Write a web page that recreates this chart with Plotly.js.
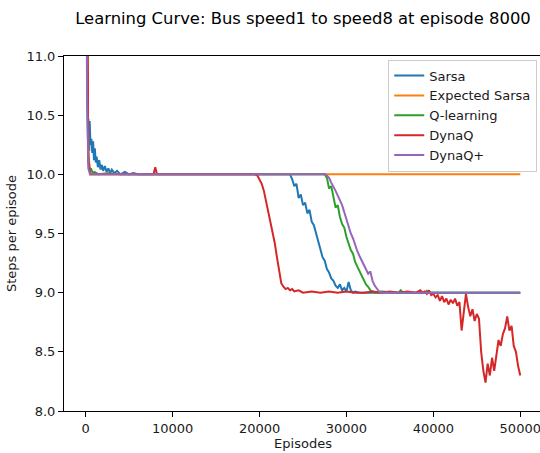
<!DOCTYPE html>
<html>
<head>
<meta charset="utf-8">
<script src="https://cdn.plot.ly/plotly-3.0.1.min.js"></script>
<style>html,body{margin:0;padding:0;overflow:hidden;background:#fff;}</style>
</head>
<body>
<div id="chart"></div>
<script>
// ---- data ----
const chartTitle = "Learning Curve: Bus speed1 to speed8 at episode 8000";
const seriesNames = ["Sarsa", "Expected Sarsa", "Q-learning", "DynaQ", "DynaQ+"];
const seriesColors = ["#1f77b4", "#ff7f0e", "#2ca02c", "#d62728", "#9467bd"];
const yTicks = [8.0, 8.5, 9.0, 9.5, 10.0, 10.5, 11.0];
const xTicks = [0, 10000, 20000, 30000, 40000, 50000];

const sarsaEp = [0,150,250,300,400,450,550,650,750,850,950,1050,1150,1250,1400,1550,1700,1850,2000,2200,2400,2600,2800,3000,3300,3600,4000,4500,5000,5500,6000,10000,15000,20000,23000,23500,23750,24000,24250,24500,24750,25000,25250,25500,25750,26000,26250,26500,26750,27000,27250,27500,27750,28000,28250,28500,28750,29000,29250,29500,29750,30000,30250,30500,30750,31000,31500,40000,50000];
const sarsaVal = [14,10.9,10.3,10.47,10.2,10.45,10.25,10.3,10.18,10.28,10.12,10.22,10.1,10.15,10.06,10.12,10.04,10.08,10.03,10.07,10.02,10.05,10.01,10.04,10.01,10.03,10.0,10.02,10.0,10.01,10.0,10.0,10.0,10.0,10.0,10.0,9.96,9.9,9.92,9.8,9.83,9.74,9.76,9.67,9.7,9.6,9.57,9.5,9.44,9.38,9.3,9.27,9.2,9.17,9.12,9.1,9.06,9.04,9.07,9.02,9.04,9.01,9.09,9.02,9.0,9.01,9.0,9.0,9.0];

const expSarsaEp = [0,100,300,500,10000,20000,30000,40000,50000];
const expSarsaVal = [14,11.5,10.2,10.0,10.0,10.0,10.0,10.0,10.0];

const qlEp = [0,150,300,400,600,800,1000,1500,2500,4000,10000,20000,27000,27500,27750,28000,28250,28500,28750,29000,29250,29500,29750,30000,30250,30500,30750,31000,31250,31500,31750,32000,32250,32500,32750,33000,33250,34000,36000,36250,36500,39000,39250,39500,45000,50000];
const qlVal = [14,10.8,10.15,10.03,10.05,10.01,10.02,10.0,10.01,10.0,10.0,10.0,10.0,10.0,9.97,9.88,9.9,9.8,9.72,9.74,9.64,9.58,9.55,9.47,9.42,9.36,9.33,9.26,9.22,9.18,9.14,9.1,9.07,9.05,9.02,9.01,9.0,9.01,9.0,9.02,9.0,9.0,9.015,9.0,9.0,9.0];

const dynaqEp = [0,200,300,380,500,5000,7800,8000,8200,15000,19000,19500,19750,20000,20250,20500,20750,21000,21250,21500,21750,22000,22250,22500,22750,23000,23250,23500,23750,24000,24500,25000,26000,27000,28000,29000,30000,31000,32000,33000,34000,35000,36000,37000,38000,38250,38500,38750,39000,39250,39500,39750,40000,40250,40500,40750,41000,41250,41500,41750,42000,42250,42500,42750,43000,43250,43500,43750,44000,44250,44500,44750,45000,45250,45500,45750,46000,46250,46500,46750,47000,47250,47500,47750,48000,48250,48500,48750,49000,49250,49500,49750,50000];
const dynaqVal = [14,10.6,10.1,10.09,10.0,10.0,10.0,10.06,10.0,10.0,10.0,10.0,9.99,9.96,9.92,9.86,9.77,9.7,9.62,9.52,9.42,9.3,9.18,9.08,9.05,9.03,9.04,9.02,9.03,9.01,9.02,9.0,9.01,9.0,9.01,9.0,9.01,9.0,9.0,9.01,9.0,9.01,9.0,9.01,9.0,9.01,9.02,9.0,9.01,8.99,9.02,8.98,8.99,8.96,8.98,8.93,8.97,8.92,8.95,8.9,8.94,8.91,8.95,8.89,8.92,8.68,8.85,8.99,8.88,8.8,8.86,8.76,8.82,8.78,8.5,8.34,8.24,8.4,8.3,8.45,8.34,8.48,8.6,8.55,8.65,8.7,8.8,8.68,8.72,8.55,8.5,8.38,8.3];

const dynaqpEp = [0,150,300,500,10000,20000,27000,27500,27750,28000,28250,28500,28750,29000,29250,29500,29750,30000,30250,30500,30750,31000,31250,31500,31750,32000,32250,32500,32750,33000,33250,33500,33750,34000,40000,50000];
const dynaqpVal = [14,10.7,10.05,10.0,10.0,10.0,10.0,10.0,9.99,9.97,9.93,9.9,9.86,9.82,9.78,9.74,9.68,9.62,9.55,9.5,9.46,9.4,9.35,9.31,9.27,9.24,9.2,9.16,9.18,9.1,9.06,9.03,9.01,9.0,9.0,9.0];

const allEp = [sarsaEp, expSarsaEp, qlEp, dynaqEp, dynaqpEp];
const allVal = [sarsaVal, expSarsaVal, qlVal, dynaqVal, dynaqpVal];

const traces = seriesNames.map((name, i) => ({
  type: "scatter",
  mode: "lines",
  name: name,
  x: allEp[i],
  y: allVal[i],
  line: {color: seriesColors[i], width: 2},
  hoverinfo: "skip"
}));

const font = {family: "DejaVu Sans, sans-serif", size: 13, color: "#1a1a1a"};

const layout = {
  width: 542,
  height: 453,
  margin: {l: 64, r: 0, t: 56, b: 42, pad: 0},
  paper_bgcolor: "#fff",
  plot_bgcolor: "#fff",
  font: font,
  showlegend: true,
  title: {
    text: chartTitle,
    font: {family: "DejaVu Sans, sans-serif", size: 16.4, color: "#000"},
    x: 0.5, xref: "paper", xanchor: "center",
    y: 0.96, yref: "container", yanchor: "middle"
  },
  xaxis: {
    range: [-2500, 52500],
    tickvals: xTicks,
    ticktext: xTicks.map(v => String(v)),
    ticks: "outside", ticklen: 5, tickwidth: 1, tickcolor: "#000",
    showline: true, linecolor: "#000", linewidth: 1, mirror: true,
    showgrid: false, zeroline: false,
    tickfont: font,
    title: {text: "Episodes", font: font, standoff: 4}
  },
  yaxis: {
    range: [8, 11],
    tickvals: yTicks,
    ticktext: yTicks.map(v => v.toFixed(1)),
    ticks: "outside", ticklen: 5, tickwidth: 1, tickcolor: "#000",
    showline: true, linecolor: "#000", linewidth: 1, mirror: true,
    showgrid: false, zeroline: false,
    tickfont: font,
    title: {text: "Steps per episode", font: font, standoff: 6}
  },
  legend: {
    x: 0.99, xanchor: "right",
    y: 0.99, yanchor: "top",
    bgcolor: "rgba(255,255,255,0.85)",
    bordercolor: "#cccccc",
    borderwidth: 1,
    font: font,
    itemwidth: 30,
    tracegroupgap: 0
  }
};

Plotly.newPlot("chart", traces, layout, {displayModeBar: false, staticPlot: true});
</script>
</body>
</html>
